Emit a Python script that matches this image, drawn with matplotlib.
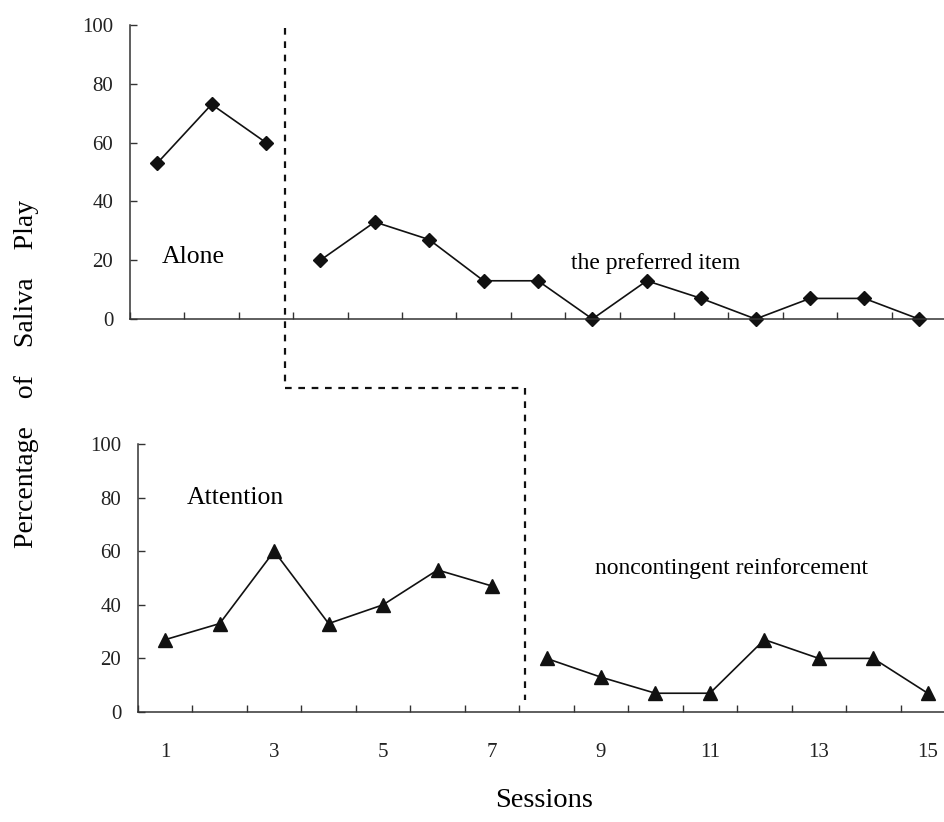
import matplotlib
matplotlib.use("Agg")
import matplotlib.pyplot as plt
from matplotlib.lines import Line2D

plt.rcParams['font.family'] = ['Liberation Serif', 'DejaVu Serif']

sessions = list(range(1, 16))
# top: Alone (1-3) then the preferred item (4-15)
alone_x = [1, 2, 3]
alone_y = [53, 73, 60]
pref_x = list(range(4, 16))
pref_y = [20, 33, 27, 13, 13, 0, 13, 7, 0, 7, 7, 0]
# bottom: Attention (1-7) then noncontingent reinforcement (8-15)
attn_x = list(range(1, 8))
attn_y = [27, 33, 60, 33, 40, 53, 47]
ncr_x = list(range(8, 16))
ncr_y = [20, 13, 7, 7, 27, 20, 20, 7]

yticks = [0, 20, 40, 60, 80, 100]
xtick_labels = [1, 3, 5, 7, 9, 11, 13, 15]

# phase change lines (data coords)
top_phase = 3.35
bot_phase = 7.6

W, H = 944, 822
fig = plt.figure(figsize=(W / 100, H / 100), dpi=100)
ax1 = fig.add_axes([130 / W, 1 - 319 / H, 816 / W, 294 / H])
ax2 = fig.add_axes([138 / W, 1 - 712 / H, 817 / W, 268 / H])

ink = '#111111'
for ax in (ax1, ax2):
    ax.set_xlim(0.5, 15.5)
    ax.set_ylim(0, 100)
    for s in ('top', 'right'):
        ax.spines[s].set_visible(False)
    for s in ('left', 'bottom'):
        ax.spines[s].set_color('#333333')
        ax.spines[s].set_linewidth(1.1)
    ax.set_yticks(yticks)
    ax.set_xticks([i + 0.5 for i in range(0, 16)])
    ax.tick_params(axis='x', direction='in', length=5, width=1, color='#333333')
    ax.tick_params(axis='y', direction='in', length=5, width=1, color='#333333',
                   pad=12, labelsize=15, labelcolor='#222222')
    ax.patch.set_alpha(0)

ax1.set_xticklabels([])
ax2.set_xticks(xtick_labels, minor=True)
ax2.set_xticklabels([])
ax2.set_xticklabels([str(v) for v in xtick_labels], minor=True)
ax2.tick_params(axis='x', which='minor', length=0, pad=22, labelsize=15,
                labelcolor='#222222')

line_kw = dict(color=ink, lw=1.2, clip_on=False)
ax1.plot(alone_x, alone_y, marker='D', ms=6.8, **line_kw)
ax1.plot(pref_x, pref_y, marker='D', ms=6.8, **line_kw)
ax2.plot(attn_x, attn_y, marker='^', ms=10, **line_kw)
ax2.plot(ncr_x, ncr_y, marker='^', ms=10, **line_kw)

ax1.text(1.09, 21, 'Alone', fontsize=18.5, ha='left', va='center')
ax1.text(10.17, 19, 'the preferred item', fontsize=17, ha='center', va='center')
ax2.text(1.4, 80, 'Attention', fontsize=18.5, ha='left', va='center')
ax2.text(11.4, 53.5, 'noncontingent reinforcement', fontsize=17, ha='center',
         va='center')

fig.text(544 / W, 1 - 800 / H, 'Sessions', fontsize=20.5, ha='center', va='center')
fig.text(27 / W, 1 - 374 / H, 'Percentage    of    Saliva    Play', fontsize=20,
         rotation=90, ha='center', va='center')

# staircase phase-change line across both panels
def to_fig(ax, x, y):
    p = ax.transData.transform((x, y))
    return fig.transFigure.inverted().transform(p)

p0 = to_fig(ax1, top_phase, 99)
p1 = to_fig(ax1, top_phase, -23.5)
p3 = to_fig(ax2, bot_phase, 4.5)
p2 = (p3[0], p1[1])
fig.add_artist(Line2D([p0[0], p1[0], p2[0], p3[0]], [p0[1], p1[1], p2[1], p3[1]],
                      transform=fig.transFigure, color=ink, lw=1.6,
                      linestyle=(0, (3, 3))))

fig.savefig('out.png', dpi=100)
